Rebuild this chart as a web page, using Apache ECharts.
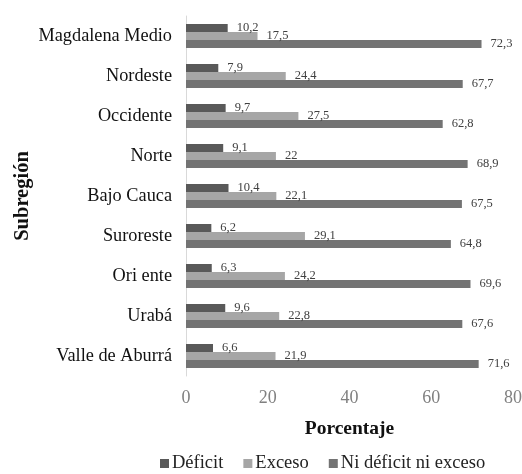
<!DOCTYPE html>
<html>
<head>
<meta charset="utf-8">
<script src="https://cdn.jsdelivr.net/npm/echarts@6/dist/echarts.min.js"></script>
<style>
  html, body { margin: 0; padding: 0; background: #fff; }
  #chart { width: 522px; height: 474px; }
</style>
</head>
<body>
<div id="chart"></div>
<script>
// Subregiones, de arriba hacia abajo
const subregiones = ['Magdalena Medio', 'Nordeste', 'Occidente', 'Norte', 'Bajo Cauca',
  'Suroreste', 'Ori ente', 'Urabá', 'Valle de Aburrá'];
const deficit = [10.2, 7.9, 9.7, 9.1, 10.4, 6.2, 6.3, 9.6, 6.6];
const exceso = [17.5, 24.4, 27.5, 22, 22.1, 29.1, 24.2, 22.8, 21.9];
const niDeficitNiExceso = [72.3, 67.7, 62.8, 68.9, 67.5, 64.8, 69.6, 67.6, 71.6];
const seriesNames = ['Déficit', 'Exceso', 'Ni déficit ni exceso'];
const xTicks = [0, 20, 40, 60, 80];

const serif = '"Liberation Serif", "DejaVu Serif", serif';
const colors = ['#595959', '#a6a6a6', '#737373'];

const label = {
  show: true,
  position: 'right',
  distance: 9,
  fontFamily: serif,
  fontSize: 12.5,
  color: '#404040',
  formatter: p => String(p.value).replace('.', ',')
};

const barSeries = (name, data) => ({
  name, type: 'bar', data, barWidth: 8, barGap: '0%', label
});

const chart = echarts.init(document.getElementById('chart'), null, { renderer: 'canvas' });
chart.setOption({
  animation: false,
  backgroundColor: '#fff',
  color: colors,
  grid: { left: 186, right: 9, top: 16, bottom: 98, containLabel: false, outerBoundsMode: 'none' },
  legend: {
    left: 155,
    top: 449,
    itemWidth: 9,
    itemHeight: 9,
    itemGap: 20,
    icon: 'rect',
    textStyle: { fontFamily: serif, fontSize: 18.5, color: '#222', padding: [0, 0, 0, -2] },
    data: seriesNames
  },
  xAxis: {
    type: 'value',
    min: xTicks[0],
    max: xTicks[xTicks.length - 1],
    interval: 20,
    name: 'Porcentaje',
    nameLocation: 'middle',
    nameGap: 43,
    nameMoveOverlap: false,
    nameTextStyle: { fontFamily: serif, fontSize: 19.5, fontWeight: 'bold', color: '#111' },
    axisLine: { show: false },
    axisTick: { show: false },
    splitLine: { show: false },
    axisLabel: { fontFamily: serif, fontSize: 18, color: '#808080', margin: 13 }
  },
  yAxis: {
    type: 'category',
    inverse: true,
    data: subregiones,
    name: 'Subregión',
    nameLocation: 'middle',
    nameGap: 153,
    nameMoveOverlap: false,
    nameRotate: 90,
    nameTextStyle: { fontFamily: serif, fontSize: 20.5, fontWeight: 'bold', color: '#111' },
    axisLine: { show: true, lineStyle: { color: '#d9d9d9', width: 1 } },
    axisTick: { show: false },
    axisLabel: { fontFamily: serif, fontSize: 18.3, color: '#111', margin: 14 }
  },
  series: [
    barSeries(seriesNames[0], deficit),
    barSeries(seriesNames[1], exceso),
    barSeries(seriesNames[2], niDeficitNiExceso)
  ]
});
</script>
</body>
</html>
